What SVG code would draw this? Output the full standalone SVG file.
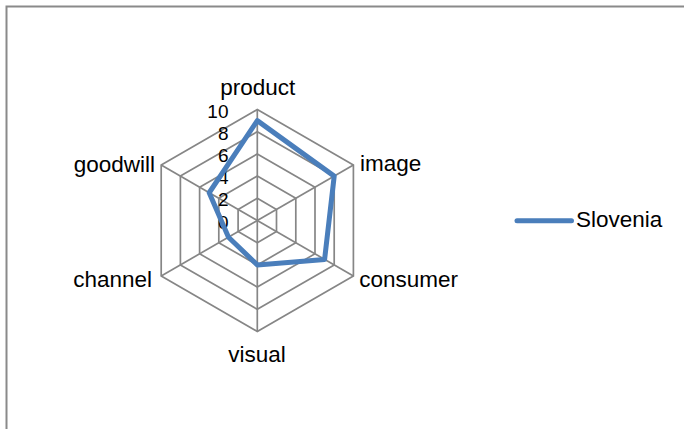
<svg xmlns="http://www.w3.org/2000/svg" width="684" height="429" viewBox="0 0 684 429">
<style>
.grid{fill:none;stroke:#868686;stroke-width:1.7;stroke-linejoin:miter}
.spoke{stroke:#868686;stroke-width:1.7}
.lbl{font-family:"Liberation Sans",Arial,sans-serif;font-size:22.5px;fill:#000}
.num{font-family:"Liberation Sans",Arial,sans-serif;font-size:19px;fill:#000;text-anchor:end}
.series{fill:none;stroke:#4a7ebb;stroke-width:5;stroke-linejoin:round;stroke-linecap:round}
</style>
<rect width="684" height="429" fill="#fff"/>
<g id="frame">
<path d="M6.5 429 V6.5 H684" fill="none" stroke="#8a8a8a" stroke-width="2"/>
</g>
<g id="grid">
<polygon class="grid" points="257.3,109.5 353.4,165 353.4,276 257.3,331.5 161.2,276 161.2,165"/>
<polygon class="grid" points="257.3,131.7 334.2,176.1 334.2,264.9 257.3,309.3 180.4,264.9 180.4,176.1"/>
<polygon class="grid" points="257.3,153.9 315,187.2 315,253.8 257.3,287.1 199.6,253.8 199.6,187.2"/>
<polygon class="grid" points="257.3,176.1 295.8,198.3 295.8,242.7 257.3,264.9 218.8,242.7 218.8,198.3"/>
<polygon class="grid" points="257.3,198.3 276.5,209.4 276.5,231.6 257.3,242.7 238.1,231.6 238.1,209.4"/>
</g>
<g id="connectors">
<line class="spoke" x1="257.3" y1="220.5" x2="257.3" y2="109.5"/>
<line class="spoke" x1="257.3" y1="220.5" x2="353.4" y2="165"/>
<line class="spoke" x1="257.3" y1="220.5" x2="353.4" y2="276"/>
<line class="spoke" x1="257.3" y1="220.5" x2="257.3" y2="331.5"/>
<line class="spoke" x1="257.3" y1="220.5" x2="161.2" y2="276"/>
<line class="spoke" x1="257.3" y1="220.5" x2="161.2" y2="165"/>
</g>
<g id="scale">
<text class="num" x="228.5" y="117.5">10</text>
<text class="num" x="228.5" y="139.7">8</text>
<text class="num" x="228.5" y="161.9">6</text>
<text class="num" x="228.5" y="184.1">4</text>
<text class="num" x="228.5" y="206.3">2</text>
<text class="num" x="228.5" y="228.5">0</text>
</g>
<g id="product"><text class="lbl" x="257.8" y="95" text-anchor="middle">product</text></g>
<g id="image"><text class="lbl" x="360" y="171">image</text></g>
<g id="consumer"><text class="lbl" x="359.3" y="286.7">consumer</text></g>
<g id="visual"><text class="lbl" x="257" y="361.7" text-anchor="middle">visual</text></g>
<g id="channel"><text class="lbl" x="152" y="286.7" text-anchor="end">channel</text></g>
<g id="goodwill"><text class="lbl" x="155" y="171.5" text-anchor="end">goodwill</text></g>
<g id="series">
<polygon class="series" points="257.3,120.6 334.2,176.1 324.6,259.4 257.3,264.9 228.5,237.2 209.2,192.75"/>
</g>
<g id="legend">
<line x1="517" y1="220.7" x2="571.5" y2="220.7" stroke="#4a7ebb" stroke-width="5" stroke-linecap="round"/>
<text class="lbl" x="576" y="226.7">Slovenia</text>
</g>
</svg>
